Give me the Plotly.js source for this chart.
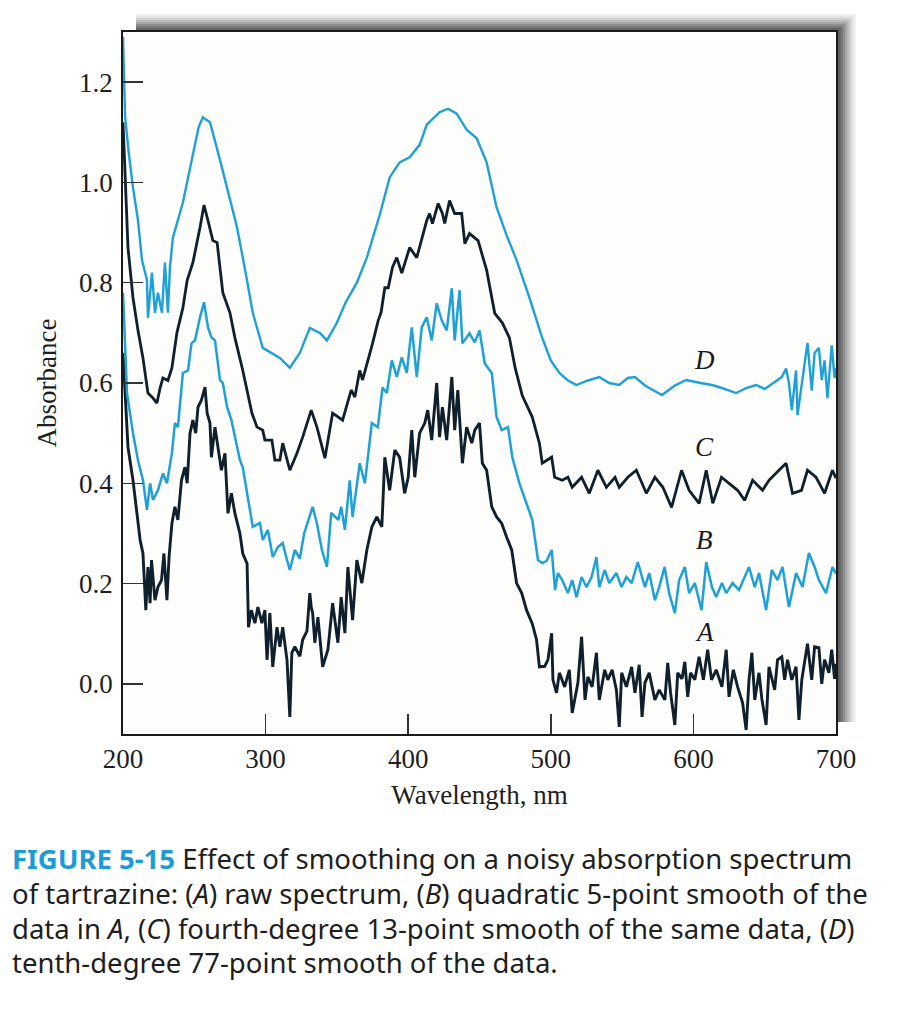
<!DOCTYPE html>
<html>
<head>
<meta charset="utf-8">
<script src="https://cdn.plot.ly/plotly-3.0.1.min.js"></script>
<style>
html,body{margin:0;padding:0;background:#fff;}
#chart{width:916px;height:1030px;}
</style>
</head>
<body>
<div id="chart"></div>
<script>
// ---- data ----
const wlA = [200,201,203.5,207,210,212,214,216,217.5,219,220,222.4,224.5,227,228.7,230.8,232.3,234.3,236.4,238.5,241,243.4,245,247,249,251,252.6,255,257.5,259,261,262,264.5,266.6,269,271.5,273.6,276,278.5,282,284,287,288,290,292.5,294.6,297.4,299.5,301,303,305,308,310,312,315,317,318.4,320.5,324,326,329,331,332,333,334.5,336.7,340,343.7,347,350.7,353,355.6,357.7,361,364,367.5,371,374.5,378,381.5,383.6,387,390.6,394,397.5,400,402.5,404.6,408,411.6,413.7,416.5,420,422,424,427,430.6,432.6,434.8,438,441,444.6,446.7,450,452,455,458.6,462,465.6,469,472.6,476,479.6,483,487,490,492,495.7,498,500.6,501.5,504,506,509.7,513,515,519,521.6,524,526,529,532,534,537.8,540,543,546,548,549.7,553,556.7,559,562,564,566,569,573,576,580,582,584,587,589,592,594,596,598,601,604,607,610,612.7,616,620,623,625,628,631,634.5,637,639,641,643,646,648,651,653,657,659,662,664,666,669,672,674,676,679,680,683,685,688,690,692,695,697,699,700];
const absA = [0.66,0.60,0.472,0.406,0.34,0.287,0.26,0.147,0.233,0.161,0.247,0.167,0.193,0.207,0.26,0.167,0.253,0.32,0.353,0.327,0.406,0.432,0.40,0.50,0.526,0.50,0.552,0.566,0.592,0.54,0.52,0.452,0.512,0.472,0.426,0.46,0.34,0.38,0.34,0.30,0.26,0.24,0.113,0.147,0.121,0.153,0.121,0.147,0.048,0.141,0.034,0.113,0.074,0.113,0.048,-0.066,0.062,0.074,0.055,0.088,0.105,0.181,0.153,0.141,0.082,0.133,0.034,0.068,0.161,0.082,0.173,0.101,0.233,0.127,0.247,0.201,0.267,0.313,0.333,0.313,0.452,0.386,0.466,0.452,0.38,0.412,0.506,0.412,0.50,0.52,0.546,0.486,0.60,0.492,0.552,0.486,0.612,0.506,0.586,0.44,0.512,0.48,0.506,0.52,0.44,0.426,0.353,0.333,0.32,0.293,0.267,0.201,0.181,0.147,0.12,0.088,0.034,0.035,0.048,0.101,0.008,-0.018,0.022,-0.006,0.028,-0.058,0.002,0.094,-0.032,0.014,-0.006,0.062,-0.032,0.028,0.008,0.028,-0.012,-0.086,0.022,-0.006,0.034,-0.018,0.038,-0.066,0.002,0.022,-0.032,-0.012,-0.032,0.042,-0.018,-0.082,0.022,0.01,0.044,-0.026,0.022,0.008,0.054,0.008,0.068,0.008,0.028,-0.006,0.068,-0.026,0.028,-0.006,-0.038,-0.092,0.008,0.062,-0.032,0.022,-0.03,-0.082,0.034,-0.012,0.048,0.054,0.008,0.048,0.008,0.034,-0.072,0.008,0.062,0.08,0.008,0.074,0.072,0.0,0.048,0.022,0.068,0.01,0.04];

const wlB = [200,201.5,202.8,207,210.5,214,216.8,219,221,224.5,228,230.8,234.3,236.4,238.5,242,245.6,248,250.5,254,256.8,259.6,262,264.5,268,270,273,276,278.5,282,284,287.6,291,296,298,301.6,305,308.6,312,315,317,320.5,324,327,331,333,336,339.5,343,346,351,353,355.6,359,361,366,369.6,374.5,378.7,382,385,388.5,392,395.5,399,402.5,406,409.5,413,416.5,420,423.5,427,430.6,432.6,436,438,443,446.7,450,453.7,458.6,462,465.6,470,473,478,483,487,491,494,497,500.6,503,505,508,512,515,518,521.6,525,528.6,532,534,537.8,541,546,549.6,553,556.7,561,566,569,573,576,579.8,583,587,590,594,597,601,605.7,609,613,616,620,623,627.5,632,639,643,646,651,655,659,662.5,667,672,676.5,681,685,688,693,697.5,700];
const absB = [0.78,0.68,0.58,0.50,0.446,0.406,0.347,0.40,0.367,0.386,0.42,0.40,0.46,0.52,0.512,0.62,0.625,0.679,0.685,0.731,0.761,0.711,0.691,0.685,0.606,0.60,0.552,0.526,0.492,0.446,0.432,0.367,0.313,0.321,0.287,0.307,0.253,0.273,0.281,0.247,0.227,0.267,0.25,0.30,0.335,0.353,0.32,0.267,0.233,0.341,0.327,0.353,0.307,0.406,0.333,0.44,0.40,0.52,0.512,0.591,0.58,0.645,0.612,0.651,0.62,0.711,0.612,0.711,0.731,0.685,0.759,0.725,0.705,0.789,0.685,0.785,0.679,0.699,0.681,0.705,0.639,0.62,0.532,0.506,0.512,0.452,0.40,0.36,0.327,0.247,0.241,0.245,0.267,0.187,0.221,0.207,0.181,0.207,0.173,0.213,0.193,0.213,0.253,0.193,0.227,0.201,0.221,0.193,0.213,0.201,0.243,0.193,0.221,0.167,0.193,0.233,0.181,0.141,0.207,0.233,0.181,0.201,0.147,0.243,0.193,0.173,0.201,0.181,0.201,0.187,0.233,0.193,0.221,0.147,0.227,0.207,0.233,0.153,0.221,0.193,0.261,0.233,0.207,0.181,0.233,0.22];

const wlC = [200,201.5,203.5,207,210.5,214,217.5,221,223.8,226,228,231.5,234.3,237.8,242,245,249,254,256.8,259.6,263,266,270,275,278.5,284,290.4,294,298,299.5,304.4,306.5,310,312,317,322,326,332,336,338,341.6,347,354,360,362.6,366,368,375,379,381,383.6,386,389,392,395.5,401,406,413,415,417,421,424,425.6,429,432.6,437.5,439.7,443,449,455,460.7,466,471,475,480,487,492,494,497,500.6,502.7,508,512,515,521.6,527,533,539,545,548,554,560,567,573,578.6,584.7,591.7,597,604,609,613.6,619.7,625,631,636,641.5,648.5,653,660,665,669.5,675.8,680,686,692,697.5,700];
const absC = [1.12,1.0,0.87,0.77,0.705,0.65,0.58,0.57,0.56,0.59,0.61,0.605,0.63,0.70,0.75,0.805,0.84,0.91,0.955,0.924,0.884,0.88,0.78,0.74,0.69,0.625,0.54,0.512,0.506,0.486,0.486,0.446,0.446,0.48,0.426,0.46,0.492,0.546,0.512,0.49,0.45,0.54,0.526,0.586,0.572,0.625,0.606,0.679,0.725,0.741,0.79,0.79,0.831,0.85,0.819,0.87,0.85,0.924,0.938,0.918,0.958,0.938,0.918,0.964,0.938,0.938,0.878,0.898,0.884,0.825,0.739,0.72,0.69,0.63,0.575,0.532,0.48,0.44,0.445,0.452,0.412,0.406,0.412,0.392,0.412,0.38,0.426,0.392,0.412,0.392,0.412,0.426,0.38,0.412,0.392,0.352,0.426,0.386,0.36,0.426,0.36,0.412,0.40,0.386,0.366,0.406,0.386,0.406,0.426,0.44,0.38,0.386,0.426,0.412,0.38,0.426,0.41];

const wlD = [200,201.5,204,207,210.5,213.3,216.8,217.5,220.3,222.4,224.5,227.3,229.4,231.5,232.9,235,242,249,253,256,261,268,274,280,286,291,298,304,310,317,324,331,338,343,350,356,364,371,380,387,394,401,408,413,422,428,434,441,448,455,462,469,476,485,494,500,506,512,518,526,534,541,548,554,559,566,572,578,587,595,605,613,620,630,637,644,650,656,662,665,667,669,672,673,675,677,680,683,685,688,690,692,694,697,699,700];
const absD = [1.29,1.13,1.06,0.99,0.925,0.845,0.805,0.73,0.82,0.74,0.78,0.74,0.84,0.74,0.83,0.89,0.96,1.06,1.11,1.13,1.12,1.045,0.98,0.91,0.82,0.74,0.67,0.66,0.65,0.63,0.66,0.71,0.70,0.685,0.72,0.76,0.80,0.85,0.935,1.01,1.04,1.05,1.075,1.115,1.14,1.147,1.137,1.105,1.088,1.04,0.95,0.895,0.845,0.77,0.69,0.645,0.62,0.605,0.596,0.605,0.612,0.60,0.596,0.61,0.612,0.595,0.585,0.576,0.595,0.606,0.60,0.596,0.59,0.58,0.59,0.596,0.588,0.60,0.612,0.629,0.60,0.546,0.625,0.536,0.58,0.62,0.68,0.585,0.66,0.67,0.606,0.645,0.57,0.675,0.61,0.63];

const curveNames = ['A','B','C','D'];
const labelX = [608,608,608,608];
const labelY = [0.104,0.287,0.472,0.645];

const xTicks = [200,300,400,500,600,700];
const yTicks = [0,0.2,0.4,0.6,0.8,1.0,1.2];
const yTickText = ['0.0','0.2','0.4','0.6','0.8','1.0','1.2'];

const xTitle = 'Wavelength, nm';
const yTitle = 'Absorbance';
const captionLines = [
  '<b><span style="color:#1d9bd6">FIGURE 5-15</span></b> Effect of smoothing on a noisy absorption spectrum',
  'of tartrazine: (<i>A</i>) raw spectrum, (<i>B</i>) quadratic 5-point smooth of the',
  'data in <i>A</i>, (<i>C</i>) fourth-degree 13-point smooth of the same data, (<i>D</i>)',
  'tenth-degree 77-point smooth of the data.'
];

// ---- styling ----
const BLUE = '#1fa0d6';
const DARK = '#0f202c';
const serif = '"Liberation Serif", "Times New Roman", serif';

const traces = [
  {x: wlA, y: absA, name: 'A', color: DARK, w: 2.9},
  {x: wlB, y: absB, name: 'B', color: BLUE, w: 2.5},
  {x: wlC, y: absC, name: 'C', color: DARK, w: 2.8},
  {x: wlD, y: absD, name: 'D', color: BLUE, w: 2.4}
].map(t => ({
  type: 'scatter', mode: 'lines', x: t.x, y: t.y, name: t.name,
  line: {color: t.color, width: t.w}, hoverinfo: 'skip', showlegend: false
}));

// plot area in pixels: x 123..836, y 32..734
const W = 916, H = 1030, L = 123, R = 80, T = 32, B = 296;
const pw = W - L - R, ph = H - T - B;
const px = v => (v - L) / pw;          // page px -> paper x
const py = v => (H - B - v) / ph;      // page px -> paper y

const shapes = [];
const grays = ['#f1f1f1','#e4e4e4','#d2d2d2','#bdbdbd','#a6a6a6','#8f8f8f','#787878','#646464','#545454'];
grays.forEach((c, i) => {
  shapes.push({type:'rect', xref:'paper', yref:'paper', layer:'below',
    x0: px(136), y0: py(722),
    x1: px(856 - i*2.2), y1: py(14 + i*2.0),
    fillcolor: c, line: {width: 0}});
});
shapes.push({type:'rect', xref:'paper', yref:'paper', layer:'below',
  x0:0, y0:0, x1:1, y1:1, fillcolor:'#fdfdfb', line:{width:0}});

const annotations = curveNames.map((n, i) => ({
  x: labelX[i], y: labelY[i], xref: 'x', yref: 'y', text: '<i>' + n + '</i>',
  showarrow: false, font: {family: serif, size: 27, color: '#1a1a1a'}
}));
const capY = [858, 893, 928, 963];
captionLines.forEach((t, i) => {
  annotations.push({xref:'paper', yref:'paper', x: px(10), y: py(capY[i]),
    xanchor:'left', yanchor:'middle', align:'left', showarrow:false, text: t,
    font:{family:'"Noto Sans", "Open Sans", sans-serif', size: 27.5, color:'#1e1e1e'}});
});

const layout = {
  width: W, height: H,
  margin: {l: L, r: R, t: T, b: B, pad: 0},
  paper_bgcolor: '#ffffff', plot_bgcolor: '#fdfdfb',
  showlegend: false,
  xaxis: {
    range: [200, 700], tickmode: 'array', tickvals: xTicks,
    ticks: 'inside', ticklen: 20, tickwidth: 1.5, tickcolor: '#333',
    showline: true, mirror: true, linecolor: '#1a1a1a', linewidth: 1.8,
    showgrid: false, zeroline: false, ticklabelstandoff: 0,
    tickfont: {family: serif, size: 27, color: '#1e1e1e'},
    title: {text: xTitle, standoff: 12, font: {family: serif, size: 27, color: '#1e1e1e'}}
  },
  yaxis: {
    range: [-0.1, 1.3], tickmode: 'array', tickvals: yTicks, ticktext: yTickText,
    ticks: 'inside', ticklen: 20, tickwidth: 1.5, tickcolor: '#333',
    showline: true, mirror: true, linecolor: '#1a1a1a', linewidth: 1.8,
    showgrid: false, zeroline: false, ticklabelstandoff: 3,
    tickfont: {family: serif, size: 27, color: '#1e1e1e'},
    title: {text: yTitle, standoff: 14, font: {family: serif, size: 27, color: '#1e1e1e'}}
  },
  shapes: shapes,
  annotations: annotations
};

Plotly.newPlot('chart', traces, layout, {displayModeBar: false, staticPlot: true});
</script>
</body>
</html>
